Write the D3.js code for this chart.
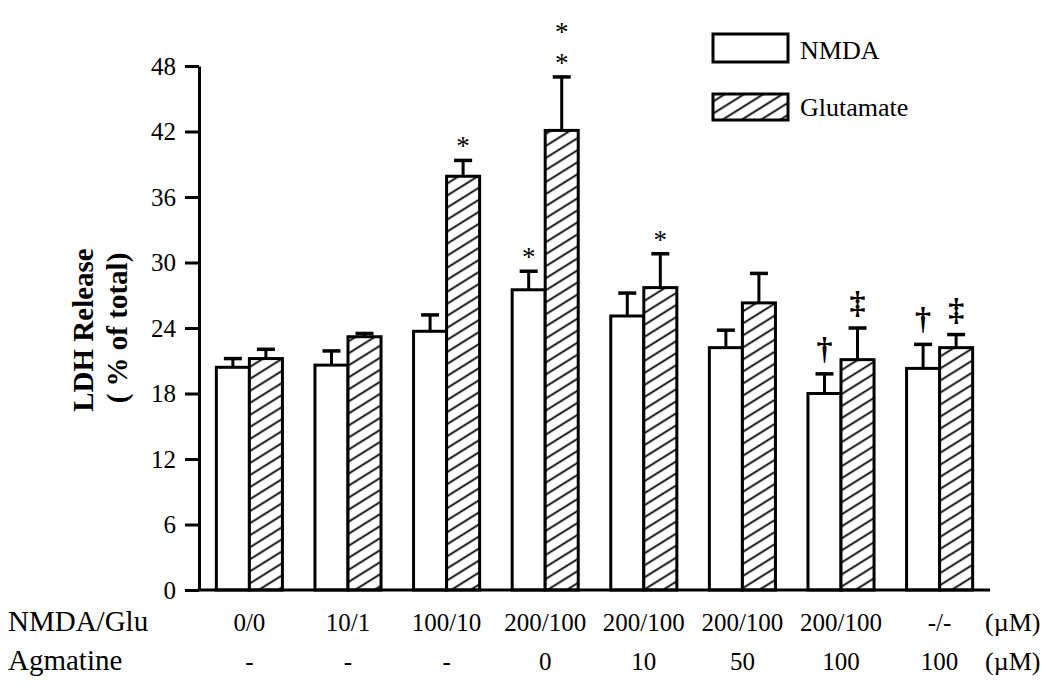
<!DOCTYPE html>
<html>
<head>
<meta charset="utf-8">
<script src="https://cdn.jsdelivr.net/npm/d3@7"></script>
<style>
  html, body { margin: 0; padding: 0; background: #fff; }
  svg { display: block; }
  svg text { font-family: "Liberation Serif", "Times New Roman", "DejaVu Serif", serif !important; fill: #000; }
</style>
</head>
<body>
<svg id="chart" width="1050" height="693"></svg>
<script>
// ---- data ----
const nmdaGlu = ["0/0", "10/1", "100/10", "200/100", "200/100", "200/100", "200/100", "-/-"];
const agmatine = ["-", "-", "-", "0", "10", "50", "100", "100"];
const seriesNames = ["NMDA", "Glutamate"];
const nmdaValues = [20.4, 20.6, 23.7, 27.5, 25.1, 22.2, 18.0, 20.3];
const nmdaErrors = [0.8, 1.3, 1.5, 1.7, 2.1, 1.6, 1.8, 2.2];
const gluValues = [21.2, 23.2, 37.9, 42.1, 27.7, 26.3, 21.1, 22.2];
const gluErrors = [0.85, 0.3, 1.45, 4.9, 3.1, 2.7, 2.9, 1.2];
const nmdaMarks = ["", "", "", "*", "", "", "\u2020", "\u2020"];
const gluMarks = ["", "", "*", "**", "*", "", "\u2021", "\u2021"];
const yTicks = [0, 6, 12, 18, 24, 30, 36, 42, 48];
const rowLabels = ["NMDA/Glu", "Agmatine"];
const unitLabel = "(\u00b5M)";

// ---- layout ----
const svg = d3.select("#chart");
const plotLeft = 199, plotRight = 990, plotTop = 66, plotBottom = 590;

const x = d3.scaleBand()
  .domain(d3.range(nmdaGlu.length))
  .range([plotLeft, plotRight])
  .paddingInner(0.33)
  .paddingOuter(0.176);
const xs = d3.scaleBand().domain(seriesNames).range([0, x.bandwidth()]).padding(0);
const y = d3.scaleLinear().domain([0, 48]).range([plotBottom, plotTop]);

// hatch pattern
const defs = svg.append("defs");
const pat = defs.append("pattern")
  .attr("id", "hatch")
  .attr("patternUnits", "userSpaceOnUse")
  .attr("width", 10).attr("height", 10.2)
  .attr("patternTransform", "rotate(-32)");
pat.append("rect").attr("width", 10).attr("height", 10.2).attr("fill", "#fff");
pat.append("line").attr("x1", -1).attr("x2", 11).attr("y1", 5).attr("y2", 5)
  .attr("stroke", "#000").attr("stroke-width", 1.8);

const fills = { "NMDA": "#fff", "Glutamate": "url(#hatch)" };

const rows = d3.range(nmdaGlu.length).map(i => ([
  { i, s: "NMDA", v: nmdaValues[i], e: nmdaErrors[i], m: nmdaMarks[i] },
  { i, s: "Glutamate", v: gluValues[i], e: gluErrors[i], m: gluMarks[i] }
])).flat();

// error bars (drawn first, behind bars)
const eb = svg.append("g");
rows.forEach(d => {
  const cx = x(d.i) + xs(d.s) + xs.bandwidth() / 2;
  eb.append("line").attr("x1", cx).attr("x2", cx)
    .attr("y1", y(d.v)).attr("y2", y(d.v + d.e))
    .attr("stroke", "#000").attr("stroke-width", 3);
  eb.append("line").attr("x1", cx - 9).attr("x2", cx + 9)
    .attr("y1", y(d.v + d.e)).attr("y2", y(d.v + d.e))
    .attr("stroke", "#000").attr("stroke-width", 3.5);
});

// bars
svg.append("g").selectAll("rect").data(rows).join("rect")
  .attr("x", d => x(d.i) + xs(d.s))
  .attr("y", d => y(d.v))
  .attr("width", xs.bandwidth())
  .attr("height", d => y(0) - y(d.v))
  .attr("fill", d => fills[d.s])
  .attr("stroke", "#000")
  .attr("stroke-width", 3);

// significance marks
const mg = svg.append("g");
rows.filter(d => d.m).forEach(d => {
  const cx = x(d.i) + xs(d.s) + xs.bandwidth() / 2;
  const capY = y(d.v + d.e);
  if (d.m.startsWith("*")) {
    for (let k = 0; k < d.m.length; k++) {
      mg.append("text").attr("x", cx).attr("y", capY - 5 - k * 31)
        .attr("text-anchor", "middle").attr("font-size", 27).text("*");
    }
  } else {
    mg.append("text").attr("x", cx).attr("y", capY - 15)
      .attr("text-anchor", "middle").attr("font-size", 32).attr("font-weight", "bold").text(d.m);
  }
});

// y axis
const yAxis = svg.append("g").attr("transform", `translate(${plotLeft},0)`)
  .call(d3.axisLeft(y).tickValues(yTicks).tickSize(14).tickPadding(9).tickSizeOuter(0));
yAxis.select(".domain").attr("stroke", "#000").attr("stroke-width", 3);
yAxis.selectAll(".tick line").attr("stroke", "#000").attr("stroke-width", 3);
yAxis.selectAll(".tick text").attr("font-size", 25).attr("fill", "#000");

// x baseline
svg.append("line").attr("x1", plotLeft - 1.5).attr("x2", plotRight).attr("y1", plotBottom).attr("y2", plotBottom)
  .attr("stroke", "#000").attr("stroke-width", 3);

// y title
svg.append("text").attr("transform", "translate(93,330) rotate(-90)")
  .attr("text-anchor", "middle").attr("font-size", 29).attr("font-weight", "bold")
  .text("LDH Release");
svg.append("text").attr("transform", "translate(127,328) rotate(-90)")
  .attr("text-anchor", "middle").attr("font-size", 29).attr("font-weight", "bold")
  .text("( % of total)");

// bottom category rows
const rowY = [631, 670];
[nmdaGlu, agmatine].forEach((labels, r) => {
  svg.append("text").attr("x", 8).attr("y", rowY[r]).attr("font-size", 29).text(rowLabels[r]);
  svg.append("g").selectAll("text").data(labels).join("text")
    .attr("x", (d, i) => x(i) + x.bandwidth() / 2)
    .attr("y", rowY[r])
    .attr("text-anchor", "middle")
    .attr("font-size", 25)
    .text(d => d);
  svg.append("text").attr("x", 985).attr("y", rowY[r]).attr("font-size", 26).text(unitLabel);
});

// legend
const lg = svg.append("g");
const legY = [34, 94], legH = [28, 26], legTextY = [59, 116];
seriesNames.forEach((s, k) => {
  lg.append("rect").attr("x", 713).attr("y", legY[k]).attr("width", 75).attr("height", legH[k])
    .attr("fill", fills[s]).attr("stroke", "#000").attr("stroke-width", 3);
  lg.append("text").attr("x", 800).attr("y", legTextY[k]).attr("font-size", 26).text(s);
});
</script>
</body>
</html>
